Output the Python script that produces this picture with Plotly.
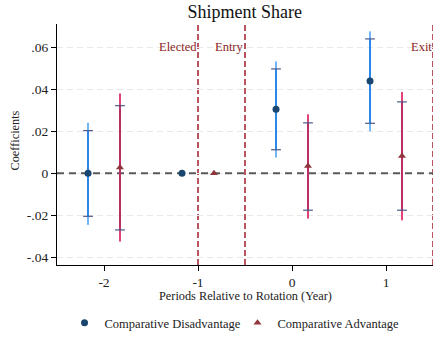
import plotly.graph_objects as go

# Event-study coefficients by period relative to rotation
periods = [-2, -1, 0, 1]
offset = 0.17

# Comparative disadvantage
dis_coef = [0.0, 0.0, 0.0305, 0.0440]
dis_lo90 = [-0.0205, None, 0.0112, 0.0238]
dis_hi90 = [0.0203, None, 0.0497, 0.0640]
dis_lo95 = [-0.0246, None, 0.0075, 0.0200]
dis_hi95 = [0.0241, None, 0.0533, 0.0676]

# Comparative advantage
adv_coef = [0.0027, 0.0, 0.0035, 0.0082]
adv_lo90 = [-0.0270, None, -0.0176, -0.0176]
adv_hi90 = [0.0322, None, 0.0240, 0.0340]
adv_lo95 = [-0.0325, None, -0.0216, -0.0224]
adv_hi95 = [0.0380, None, 0.0281, 0.0387]

y_ticks = [-0.04, -0.02, 0, 0.02, 0.04, 0.06]
y_tick_labels = ["-.04", "-.02", "0", ".02", ".04", ".06"]
x_ticks = [-2, -1, 0, 1]
x_tick_labels = ["-2", "-1", "0", "1"]
x_range = [-2.5, 1.5]
y_range = [-0.0437, 0.0711]

events = [("Elected", -1.0), ("Entry", -0.5), ("Exit", 1.5)]

FONT = "Liberation Serif"


def segments(xs, lo, hi):
    sx, sy = [], []
    for x, a, b in zip(xs, lo, hi):
        if a is None:
            continue
        sx += [x, x, None]
        sy += [a, b, None]
    return sx, sy


def caps(xs, lo, hi):
    cx, cy = [], []
    for x, a, b in zip(xs, lo, hi):
        if a is None:
            continue
        cx += [x, x]
        cy += [a, b]
    return cx, cy


fig = go.Figure()

# Reference line at zero across the whole x range
fig.add_trace(go.Scatter(x=x_range, y=[0, 0], mode="lines",
                         line=dict(color="#5a5a5a", width=2, dash="7px,5px"),
                         showlegend=False, hoverinfo="skip", cliponaxis=True))

series = [
    ("Comparative Disadvantage", -offset, dis_coef, dis_lo90, dis_hi90, dis_lo95, dis_hi95,
     "#72b6f6", "#2a88e6", "#1a476f", "circle"),
    ("Comparative Advantage", offset, adv_coef, adv_lo90, adv_hi90, adv_lo95, adv_hi95,
     "#e0427a", "#bb2f64", "#90353b", "triangle-up"),
]

for name, off, coef, lo90, hi90, lo95, hi95, c95, c90, cm, sym in series:
    xs = [p + off for p in periods]
    sx, sy = segments(xs, lo95, hi95)
    fig.add_trace(go.Scatter(x=sx, y=sy, mode="lines", line=dict(color=c95, width=2),
                             showlegend=False, hoverinfo="skip"))
    sx, sy = segments(xs, lo90, hi90)
    fig.add_trace(go.Scatter(x=sx, y=sy, mode="lines", line=dict(color=c90, width=2),
                             showlegend=False, hoverinfo="skip"))
    cx, cy = caps(xs, lo90, hi90)
    fig.add_trace(go.Scatter(x=cx, y=cy, mode="markers",
                             marker=dict(symbol="line-ew", size=7,
                                         line=dict(color="#4a5a8a", width=1.2)),
                             showlegend=False, hoverinfo="skip"))
    fig.add_trace(go.Scatter(x=xs, y=coef, mode="markers", name=name,
                             marker=dict(symbol=sym, size=7, color=cm,
                                         line=dict(width=0))))

shapes = []
annotations = []
for label, xv in events:
    shapes.append(dict(type="line", xref="x", x0=xv, x1=xv, yref="paper", y0=0, y1=1,
                       line=dict(color="#b0434f", width=1.8, dash="6px,3px"), layer="between"))
    annotations.append(dict(text=label, x=xv, xref="x", xanchor="right", xshift=1,
                            y=0.06, yref="y", yanchor="middle", showarrow=False,
                            font=dict(family=FONT, size=12.5, color="#8b1f24")))

annotations.append(dict(text="Periods Relative to Rotation (Year)", xref="paper", x=0.5,
                        yref="paper", y=0, yanchor="middle", yshift=-31, showarrow=False,
                        font=dict(family=FONT, size=12.3, color="#222")))
annotations.append(dict(text="Coefficients", xref="paper", x=0, xanchor="center", xshift=-43,
                        yref="paper", y=0.5, yanchor="middle", yshift=4, textangle=-90,
                        showarrow=False, font=dict(family=FONT, size=12.3, color="#222")))

fig.update_layout(
    width=433, height=338,
    margin=dict(l=57, r=0, t=24, b=72),
    paper_bgcolor="white", plot_bgcolor="white",
    font=dict(family=FONT, size=12, color="#222"),
    title=dict(text="Shipment Share", x=0.5652, xanchor="center", y=0.965, yanchor="middle",
               font=dict(family=FONT, size=18, color="#111")),
    shapes=shapes,
    annotations=annotations,
    legend=dict(orientation="h", x=0.02, xanchor="left", xref="paper",
                y=-0.24, yanchor="middle", font=dict(family=FONT, size=12.5),
                entrywidth=128, entrywidthmode="pixels", itemwidth=30, tracegroupgap=0),
    showlegend=True,
)

fig.update_xaxes(range=x_range, tickvals=x_ticks, ticktext=x_tick_labels,
                 showline=True, linecolor="black", linewidth=1.2, ticks="outside",
                 ticklen=5, tickcolor="black", showgrid=False, zeroline=False,
                 tickfont=dict(family=FONT, size=13.5))
fig.update_yaxes(range=y_range, tickvals=y_ticks, ticktext=y_tick_labels,
                 showline=True, linecolor="black", linewidth=1.2, ticks="outside",
                 ticklen=5, tickcolor="black", showgrid=True, gridcolor="#e8e8e8",
                 griddash="6px,4px", gridwidth=1, zeroline=False,
                 tickfont=dict(family=FONT, size=13.5))

fig.write_html("out.html")
